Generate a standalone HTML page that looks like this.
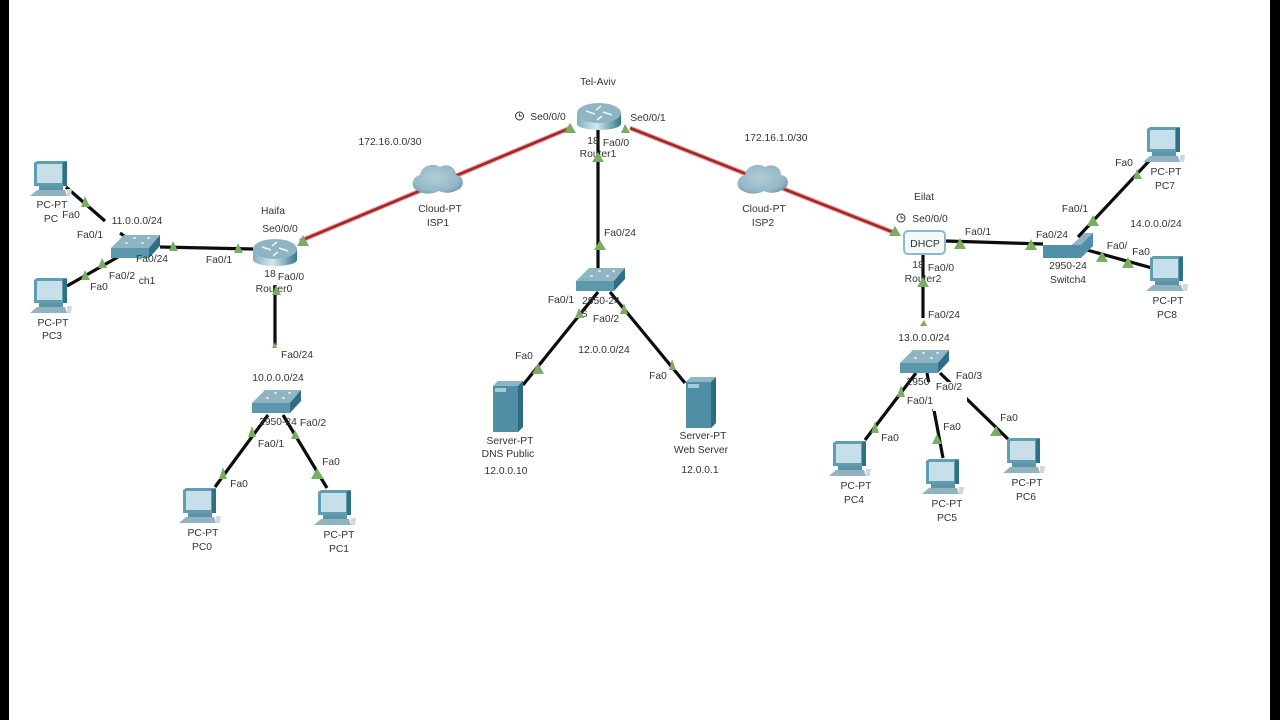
<!DOCTYPE html>
<html><head><meta charset="utf-8"><style>
html,body{margin:0;padding:0;background:#fff}
svg{display:block;filter:blur(.35px)}
text{font-family:"Liberation Sans",sans-serif;font-size:10.3px;fill:#333;text-anchor:middle}
.k{stroke:#0c0c0c;stroke-width:3.2;fill:none}
.r{stroke:#a9262a;stroke-width:2.8;fill:none}
.g{stroke:#e6b0b0;stroke-width:5;fill:none}
.t{fill:#79ae62}
</style></head><body>
<svg width="1280" height="720" viewBox="0 0 1280 720" xmlns="http://www.w3.org/2000/svg">
<defs>
<linearGradient id="rg" x1="0" x2="1" y1="0" y2="0"><stop offset="0" stop-color="#7fb0c2"/><stop offset=".45" stop-color="#d6e8ee"/><stop offset="1" stop-color="#34778d"/></linearGradient>
<radialGradient id="cg" cx=".45" cy=".45" r=".62"><stop offset="0" stop-color="#b3cdd8"/><stop offset=".75" stop-color="#94b7c7"/><stop offset="1" stop-color="#6f9bae"/></radialGradient>
<g id="pc">
<path d="M0 2 L3 0 H33 V25 H0Z" fill="#5f9db1"/>
<rect x="3" y="3" width="25" height="19" fill="#c6dfe9"/>
<path d="M29 1 H33 V25 H29Z" fill="#2f7087"/>
<rect x="5" y="25" width="24" height="4" fill="#5f93a6"/>
<path d="M-4 35 L3 29 H31 L33 35Z" fill="#8fb3c0"/>
<path d="M33 28 L38 28 L37 35 H33Z" fill="#cfd9dd"/>
</g>
<g id="sw">
<path d="M0 13 L13 0 H49 L38 13Z" fill="#8fb5c2"/>
<rect x="0" y="13" width="38" height="10" fill="#5b98ad"/>
<path d="M38 13 L49 0 V11 L38 23Z" fill="#2f6e85"/>
<path d="M14 8h3M30 8h3M22 3h3M36 3h3" stroke="#e4f0f4" stroke-width="1.5"/>
</g>
<g id="rt">
<rect x="0" y="10" width="44" height="11" fill="url(#rg)"/>
<ellipse cx="22" cy="21" rx="22" ry="6" fill="url(#rg)"/>
<ellipse cx="22" cy="10" rx="22" ry="10" fill="#8fb5c3"/>
<path d="M9 8l9 3M35 12l-9-3M24 3l-5 4M20 17l5-4" stroke="#eef6f8" stroke-width="1.5"/>
</g>
<g id="srv">
<path d="M0 5 L5 0 H30 V46 L25 51 H0Z" fill="#4f8ea5"/>
<path d="M25 5 L30 0 V46 L25 51Z" fill="#2e6a80"/>
<path d="M0 5 L5 0 H30 L25 5Z" fill="#8fb5c2"/>
<rect x="2" y="7" width="11" height="4" fill="#a7cbd8"/>
</g>
<g id="cl">
<path d="M5 27 C-3 24 -2 13 7 11 C8 2 20 -2 27 3 C34 -1 43 3 43 11 C52 12 52 24 44 26 C38 30 30 29 26 27 C18 31 10 30 5 27Z" fill="url(#cg)"/>
</g>
</defs>

<rect width="1280" height="720" fill="#fff"/>
<rect x="0" y="0" width="9" height="720" fill="#000"/>
<rect x="1270" y="0" width="10" height="720" fill="#000"/>

<!-- WAN -->
<path class="g" d="M300 241L570 128M630 128L895 233"/>
<path class="r" d="M300 241L570 128M630 128L895 233"/>

<!-- LAN -->
<path class="k" d="M66 187L105 221M120 233L130 240M67 286L118 257M160 247L253 249M275 285V345M268 415L215 487M283 415L327 488M598 125V270M598 292L523 385M610 292L685 383M946 241L1043 244M923 255V318M1078 237L1150 160M1087 250L1152 268M916 373L865 440M927 373L943 458M940 373L1008 439"/>

<!-- Devices -->
<use href="#pc" x="34" y="161"/>
<use href="#pc" x="34" y="278"/>
<use href="#pc" x="183" y="488"/>
<use href="#pc" x="318" y="490"/>
<use href="#pc" x="833" y="441"/>
<use href="#pc" x="926" y="459"/>
<use href="#pc" x="1007" y="438"/>
<use href="#pc" x="1147" y="127"/>
<use href="#pc" x="1150" y="256"/>
<use href="#srv" x="493" y="381"/>
<use href="#srv" x="686" y="377"/>
<use href="#sw" x="111" y="235"/>
<use href="#sw" x="252" y="390"/>
<use href="#sw" x="576" y="268"/>
<use href="#sw" x="900" y="350"/>
<path d="M1043 245L1072 245L1085 233H1093L1093 246L1081 258H1043Z" fill="#4f90a7"/>
<path d="M1073 245L1084 233H1093L1081 245Z" fill="#8fb5c2"/>
<use href="#rt" x="253" y="239"/>
<use href="#rt" x="577" y="103"/>
<use href="#cl" x="413" y="164"/>
<use href="#cl" x="738" y="164"/>
<rect x="904" y="231" width="41" height="23" rx="4" fill="#f4f8fa" stroke="#8db9cc" stroke-width="2"/>
<text x="925" y="247" style="font-size:10.5px">DHCP</text>

<!-- Label masks -->
<g fill="#fff">
<rect x="106" y="214" width="60" height="13"/>
<rect x="251" y="370" width="54" height="14"/>
<rect x="895" y="332" width="58" height="13"/>
<rect x="1127" y="217" width="58" height="13"/>
<rect x="925" y="382" width="42" height="22"/>
<rect x="906" y="395" width="34" height="14"/>
<rect x="933" y="397" width="25" height="14"/>
<rect x="118" y="267" width="40" height="20"/>
<rect x="40" y="199" width="35" height="27"/>
</g>

<!-- Labels -->
<text x="52" y="208">PC-PT</text><text x="51" y="222">PC</text>
<text x="71" y="218">Fa0</text>
<text x="90" y="238">Fa0/1</text>
<text x="137" y="224">11.0.0.0/24</text>
<text x="152" y="262">Fa0/24</text>
<text x="122" y="279">Fa0/2</text><text x="147" y="284">ch1</text>
<text x="99" y="290">Fa0</text>
<text x="53" y="326">PC-PT</text><text x="52" y="339">PC3</text>
<text x="219" y="263">Fa0/1</text>
<text x="273" y="214">Haifa</text>
<text x="280" y="232">Se0/0/0</text>
<text x="270" y="277">18</text><text x="291" y="280">Fa0/0</text>
<text x="274" y="292">Router0</text>
<text x="297" y="358">Fa0/24</text>
<text x="278" y="381">10.0.0.0/24</text>
<text x="278" y="425">2950-24</text><text x="313" y="426">Fa0/2</text>
<text x="271" y="447">Fa0/1</text>
<text x="331" y="465">Fa0</text><text x="239" y="487">Fa0</text>
<text x="203" y="536">PC-PT</text><text x="202" y="550">PC0</text>
<text x="339" y="538">PC-PT</text><text x="339" y="552">PC1</text>

<text x="390" y="145">172.16.0.0/30</text>
<text x="440" y="212">Cloud-PT</text><text x="438" y="226">ISP1</text>
<text x="598" y="85">Tel-Aviv</text>
<circle cx="519.500" cy="116" r="4" fill="none" stroke="#333" stroke-width="1"/><path d="M519.500 113.500V116H522" fill="none" stroke="#333" stroke-width="1"/>
<text x="548" y="120">Se0/0/0</text><text x="648" y="121">Se0/0/1</text>
<text x="593" y="144">18</text><text x="616" y="146">Fa0/0</text>
<text x="598" y="157">Router1</text>
<text x="620" y="236">Fa0/24</text>
<text x="561" y="303">Fa0/1</text><text x="601" y="304">2950-24</text>
<text x="584" y="317">S</text><text x="606" y="322">Fa0/2</text>
<text x="604" y="353">12.0.0.0/24</text>
<text x="524" y="359">Fa0</text><text x="658" y="379">Fa0</text>
<text x="510" y="444">Server-PT</text><text x="508" y="457">DNS Public</text>
<text x="506" y="474">12.0.0.10</text>
<text x="703" y="439">Server-PT</text><text x="701" y="453">Web Server</text>
<text x="700" y="473">12.0.0.1</text>

<text x="776" y="141">172.16.1.0/30</text>
<text x="764" y="212">Cloud-PT</text><text x="763" y="226">ISP2</text>
<text x="924" y="200">Eilat</text>
<circle cx="901" cy="218" r="4" fill="none" stroke="#333" stroke-width="1"/><path d="M901 215.500V218H903.500" fill="none" stroke="#333" stroke-width="1"/>
<text x="930" y="222">Se0/0/0</text>
<text x="978" y="235">Fa0/1</text><text x="1052" y="238">Fa0/24</text>
<text x="918" y="268">18</text><text x="941" y="271">Fa0/0</text>
<text x="923" y="282">Router2</text>
<text x="944" y="318">Fa0/24</text>
<text x="924" y="341">13.0.0.0/24</text>
<text x="969" y="379">Fa0/3</text><text x="918" y="385">2950</text><text x="949" y="390">Fa0/2</text>
<text x="920" y="404">Fa0/1</text>
<text x="952" y="430">Fa0</text><text x="1009" y="421">Fa0</text><text x="890" y="441">Fa0</text>
<text x="856" y="489">PC-PT</text><text x="854" y="503">PC4</text>
<text x="947" y="507">PC-PT</text><text x="947" y="521">PC5</text>
<text x="1027" y="486">PC-PT</text><text x="1026" y="500">PC6</text>
<text x="1075" y="212">Fa0/1</text>
<text x="1124" y="166">Fa0</text>
<text x="1166" y="175">PC-PT</text><text x="1165" y="189">PC7</text>
<text x="1156" y="227">14.0.0.0/24</text>
<text x="1117" y="249">Fa0/</text><text x="1141" y="255">Fa0</text>
<text x="1068" y="269">2950-24</text><text x="1068" y="283">Switch4</text>
<text x="1168" y="304">PC-PT</text><text x="1167" y="318">PC8</text>

<!-- Triangles on top of labels -->
<path class="t" d="M85 196l5 11h-9zM102 258l5 10h-9zM85 270l5 10h-9zM173 241l5 10h-9zM238 243l5 10h-9zM303 235l6 11h-12zM276 285l5 10h-9zM275 342l2 6h-5zM570 123l6 10h-12zM625 124l5 9h-9zM598 152l6 10h-12zM600 240l6 10h-12zM579 308l5 10h-9zM624 303l4 11h-8zM538 363l6 11h-12zM672 359l4 11h-7zM252 426l4 11h-8zM295 430l5 9h-9zM223 467l4 12h-8zM317 468l7 11h-13zM895 226l6 10h-12zM960 238l6 11h-12zM1031 239l6 11h-12zM923 277l6 10h-12zM924 320l3 6h-7zM1093 215l6 11h-12zM1102 251l6 11h-12zM1128 257l6 11h-12zM1137 169l5 10h-9zM901 385l4 12h-8zM875 421l4 12h-8zM937 434l5 10h-10zM996 426l6 10h-12z"/>
</svg>
</body></html>
